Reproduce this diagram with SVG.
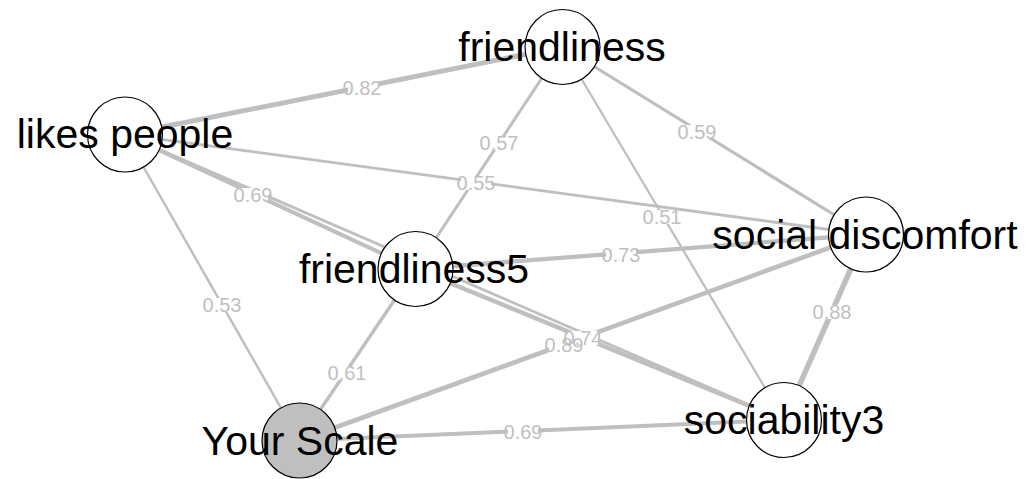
<svg xmlns="http://www.w3.org/2000/svg" width="1028" height="479" viewBox="0 0 1028 479">
<style>
.e{stroke:#BFBFBF;fill:none;stroke-linecap:butt}
.lb{fill:#ffffff}
.lt{font-family:"Liberation Sans",Arial,sans-serif;font-size:20px;fill:#BFBFBF;text-anchor:middle;dominant-baseline:central}
.n{fill:#ffffff;stroke:#000000;stroke-width:1.2}
.ys{fill:#BFBFBF}
.nt{font-family:"Liberation Sans",Arial,sans-serif;font-size:41px;fill:#000000;text-anchor:middle}
</style>
<rect width="1028" height="479" fill="#ffffff"/>
<g id="connectors">
<line class="e" x1="125" y1="134.5" x2="562.5" y2="47" stroke-width="5"/>
<line class="e" x1="562.5" y1="47" x2="415.5" y2="269" stroke-width="3"/>
<line class="e" x1="562.5" y1="47" x2="866" y2="234.5" stroke-width="3.2"/>
<line class="e" x1="562.5" y1="47" x2="784" y2="420" stroke-width="2.3"/>
<line class="e" x1="125" y1="134.5" x2="866" y2="234.5" stroke-width="2.8"/>
<line class="e" x1="125" y1="134.5" x2="415.5" y2="269" stroke-width="4"/>
<line class="e" x1="125" y1="134.5" x2="784" y2="420" stroke-width="2.8"/>
<line class="e" x1="415.5" y1="269" x2="866" y2="234.5" stroke-width="4.3"/>
<line class="e" x1="415.5" y1="269" x2="784" y2="420" stroke-width="4.4"/>
<line class="e" x1="299.5" y1="440.5" x2="866" y2="234.5" stroke-width="4.6"/>
<line class="e" x1="866" y1="234.5" x2="784" y2="420" stroke-width="5.5"/>
<line class="e" x1="125" y1="134.5" x2="299.5" y2="440.5" stroke-width="2.5"/>
<line class="e" x1="415.5" y1="269" x2="299.5" y2="440.5" stroke-width="3.4"/>
<line class="e" x1="299.5" y1="440.5" x2="784" y2="420" stroke-width="4"/>
</g>
<g id="edge-labels">
<rect class="lb" x="348" y="81" width="30" height="14"/>
<rect class="lb" x="484" y="136" width="30" height="14"/>
<rect class="lb" x="682" y="125" width="30" height="14"/>
<rect class="lb" x="647" y="210" width="30" height="14"/>
<rect class="lb" x="461" y="176" width="30" height="14"/>
<rect class="lb" x="238" y="188" width="30" height="14"/>
<rect class="lb" x="606" y="248" width="30" height="14"/>
<rect class="lb" x="549" y="338" width="30" height="14"/>
<rect class="lb" x="568" y="331" width="30" height="14"/>
<rect class="lb" x="817" y="305" width="30" height="14"/>
<rect class="lb" x="207" y="298" width="30" height="14"/>
<rect class="lb" x="332" y="366" width="30" height="14"/>
<rect class="lb" x="508" y="425" width="30" height="14"/>
<text class="lt" x="362" y="88">0.82</text>
<text class="lt" x="499" y="143">0.57</text>
<text class="lt" x="697" y="132">0.59</text>
<text class="lt" x="662" y="217">0.51</text>
<text class="lt" x="476" y="183">0.55</text>
<text class="lt" x="253" y="195">0.69</text>
<text class="lt" x="621" y="255">0.73</text>
<text class="lt" x="564" y="345">0.89</text>
<text class="lt" x="583" y="338">0.74</text>
<text class="lt" x="832" y="312">0.88</text>
<text class="lt" x="222" y="305">0.53</text>
<text class="lt" x="347" y="373">0.61</text>
<text class="lt" x="523" y="432">0.69</text>
</g>
<g id="node-friendliness">
<circle class="n" cx="562.5" cy="47" r="37.5"/>
<text class="nt" x="562" y="61">friendliness</text>
</g>
<g id="node-likes-people">
<circle class="n" cx="125" cy="134.5" r="37.5"/>
<text class="nt" x="125" y="148">likes people</text>
</g>
<g id="node-friendliness5">
<circle class="n" cx="415.5" cy="269" r="37.5"/>
<text class="nt" x="414" y="283">friendliness5</text>
</g>
<g id="node-social-discomfort">
<circle class="n" cx="866" cy="234.5" r="37.5"/>
<text class="nt" x="865" y="249">social discomfort</text>
</g>
<g id="node-sociability3">
<circle class="n" cx="784" cy="420" r="37.5"/>
<text class="nt" x="784" y="434">sociability3</text>
</g>
<g id="node-your-scale">
<circle class="n ys" cx="299.5" cy="440.5" r="37.5"/>
<text class="nt" x="300" y="455">Your Scale</text>
</g>
</svg>
